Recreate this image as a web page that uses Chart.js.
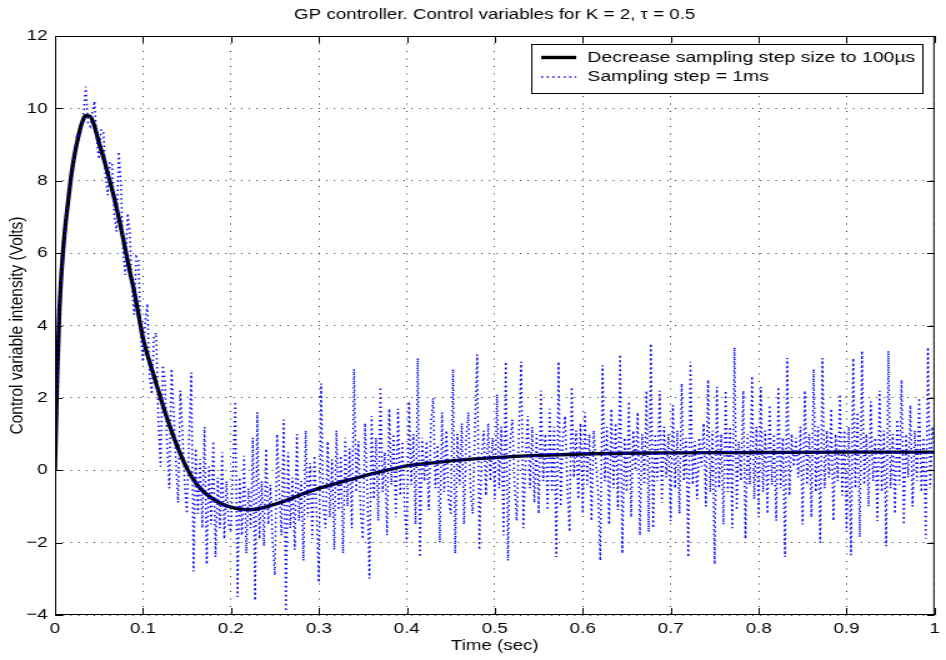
<!DOCTYPE html>
<html>
<head>
<meta charset="utf-8">
<title>GP controller - control variables</title>
<script src="https://cdn.jsdelivr.net/npm/chart.js@4/dist/chart.umd.min.js"></script>
<style>
    html, body { margin: 0; padding: 0; background: #fff; }
</style>
</head>
<body>
<!-- the reference figure is stretched horizontally, so the canvas is too -->
<canvas id="chart" width="757" height="660" style="display:block;width:946px;height:660px"></canvas>
<script>
"use strict";

var TITLE = 'GP controller. Control variables for K = 2, \u03c4 = 0.5';
var X_LABEL = 'Time (sec)';
var Y_LABEL = 'Control variable intensity (Volts)';

var X_TICKS = [0, 0.1, 0.2, 0.3, 0.4, 0.5, 0.6, 0.7, 0.8, 0.9, 1];
var Y_TICKS = [-4, -2, 0, 2, 4, 6, 8, 10, 12];

// 100us run (smooth black curve)
var FINE_LABEL = 'Decrease sampling step size to 100\u00b5s';
var FINE_TIME = [
    0, 0.0025, 0.005, 0.0075, 0.01,
    0.015, 0.02, 0.025, 0.03, 0.035, 0.04, 0.045, 0.05, 0.055, 0.06,
    0.065, 0.07, 0.075, 0.08, 0.085, 0.09, 0.095, 0.1,
    0.11, 0.12, 0.13, 0.14, 0.15, 0.16, 0.17, 0.18, 0.19, 0.2,
    0.21, 0.22, 0.23, 0.24, 0.25, 0.26, 0.27, 0.28, 0.29, 0.3,
    0.32, 0.34, 0.36, 0.38, 0.4, 0.42,
    0.45, 0.5, 0.55, 0.6, 0.65, 0.7, 0.8, 0.9, 1.0
];
var FINE_VALUES = [
    0, 2.6, 4.4, 5.5, 6.3,
    7.45, 8.4, 9.05, 9.55, 9.8, 9.78, 9.5, 9.05, 8.65, 8.2,
    7.75, 7.25, 6.7, 6.1, 5.5, 4.95, 4.3, 3.65,
    2.8, 2.0, 1.25, 0.6, 0.05, -0.35, -0.62, -0.8, -0.93, -1.02,
    -1.07, -1.09, -1.07, -1.01, -0.94, -0.86, -0.77, -0.67, -0.58, -0.5,
    -0.36, -0.23, -0.1, 0.02, 0.12, 0.18,
    0.26, 0.35, 0.41, 0.45, 0.47, 0.48, 0.49, 0.5, 0.5
];

// 1ms run (blue dotted), every 2.5ms
var COARSE_LABEL = 'Sampling step = 1ms';
var COARSE_STEP = 0.0025;
var COARSE_VALUES = [
    0, 2.4, 4.6, 5.3, 6.0, 7.0, 7.7, 7.9, 8.2, 8.8, 9.3, 9.2, 9.4, 9.9, 10.6, 9.6, 9.5, 9.9, 10.2, 9.1,
    8.6, 9.4, 9.4, 8.1, 7.6, 8.5, 8.5, 7.0, 6.6, 8.8, 7.9, 6.0, 5.4, 7.1, 6.6, 5.0, 4.3, 5.9, 5.8, 3.7,
    3.0, 4.1, 4.6, 2.6, 2.1, 3.7, 3.8, 1.4, 0.1, 2.9, 2.5, 0.6, -0.5, 2.8, 1.6, 0.2, -0.9, 2.2, 1.0, -0.4,
    -1.2, 0.9, 2.7, -2.8, 0.6, -1.2, 0.3, -1.6, 1.2, -2.6, 0.1, -1.5, 0.8, -2.4, -0.2, -1.6, 0.5, -1.9, -0.3, -1.5,
    -1.7, 0.2, 1.9, -3.5, -0.2, -1.8, 0.4, -2.3, -0.5, -1.6, 0.9, -3.6, 1.6, -1.9, -0.3, -2.1, 0.6, -1.5, -0.4, -2.0,
    -2.9, 1.0, -0.6, -1.8, 1.4, -3.9, 0.5, -1.6, -0.2, -2.2, 1.0, -1.4, -0.3, -2.5, 1.1, -1.3, 0.2, -1.9, 0.4, -1.2,
    -3.1, 2.4, -1.0, -1.6, 0.8, -1.3, 0.3, -2.2, 1.1, -1.1, 0.4, -2.3, 0.9, -1.0, 0.6, -1.6, 2.8, -0.6, 0.8, -1.2,
    -1.9, 1.3, -0.5, -3.0, 1.5, -0.8, 0.9, -1.4, 2.3, -0.6, 0.5, -1.8, 1.7, -0.4, 1.0, -1.3, 1.7, -0.7, 0.8, -1.1,
    -2.0, 1.9, -0.4, 1.0, -1.5, 3.1, -2.4, 0.9, -0.3, 0.8, -1.1, 1.3, 2.0, -0.5, 0.7, -2.0, 1.6, -0.6, 1.1, -0.8,
    -1.2, 2.8, -2.3, 1.0, -0.4, 1.3, -1.5, 0.9, 1.6, -0.6, -1.2, 1.2, 3.2, -2.2, 0.4, 1.1, -0.7, 1.3, -0.3, 0.9,
    -0.8, 2.1, -0.5, 1.2, -1.8, 3.0, -2.5, 0.8, 1.4, -0.4, -1.4, 1.1, 3.0, -1.6, 0.3, 1.5, -0.5, 1.2, -0.9, 1.0,
    -1.2, 2.2, -0.3, 1.0, -1.1, 1.7, -0.6, 1.2, -2.4, 3.0, -1.0, 0.9, 1.5, -0.5, -1.7, 2.3, -0.2, 1.1, -0.8, 1.3,
    -1.2, 1.6, -0.4, 1.0, -1.4, 1.1, 0.2, -0.6, -2.5, 2.9, -0.3, 1.2, -1.5, 1.7, -0.5, 1.3, -1.1, 3.2, -2.3, 0.9,
    -0.6, 1.9, -1.3, 1.1, 0.0, 1.6, -1.8, 1.0, -0.4, 2.2, -1.7, 3.5, -1.6, 1.0, -0.3, 2.2, -0.9, 1.2, -0.2, 1.0,
    -1.4, 1.8, -0.5, 1.1, -1.2, 2.4, -0.3, 0.9, -2.4, 3.0, -0.4, 0.8, -0.8, 0.9, 0.1, 1.3, -1.0, 2.5, -0.6, 1.1,
    -2.6, 2.3, -0.5, 1.0, -1.5, 2.2, -0.6, 1.2, -1.6, 3.4, -1.1, 0.8, -0.3, 2.2, -1.9, 1.0, -0.4, 2.6, -0.8, 1.2,
    -1.3, 2.3, -0.6, 1.1, -1.2, 1.8, -0.4, 1.0, -1.4, 2.3, -0.5, 0.9, -2.4, 3.1, -0.7, 1.0, 0.1, 0.9, -0.2, 1.2,
    -1.5, 2.2, -0.4, 1.0, -1.3, 2.8, -0.6, 1.2, -2.0, 3.1, -0.5, 1.1, -0.2, 1.7, -1.4, 1.0, -0.3, 2.1, -0.7, 1.1,
    -1.7, 1.2, -2.35, 3.1, -0.5, 1.6, -1.85, 3.3, -0.4, 1.0, -1.0, 1.9, -0.3, 0.9, -1.4, 2.2, -0.6, 1.1, -2.1, 3.3,
    -0.5, 1.0, -1.2, 1.4, -0.4, 2.5, -1.5, 1.0, -0.2, 1.8, -1.0, 1.1, -0.3, 2.0, -0.6, 0.9, -1.9, 3.4, -0.5, 1.2,
    0.6
];

var FONT = '"Liberation Sans", Arial, Helvetica, sans-serif';

function fmtTick(v) {
    return String(v).replace('-', '\u2212');
}

function ticksFrom(list) {
    return function (scale) {
        scale.ticks = list.map(function (v) { return {value: v}; });
    };
}

var fineData = FINE_TIME.map(function (t, i) {
    return {x: t, y: FINE_VALUES[i]};
});
var coarseData = COARSE_VALUES.map(function (v, i) {
    return {x: Math.round(i * COARSE_STEP * 10000) / 10000, y: v};
});

// Box, inward ticks, title and legend drawn MATLAB style
var matlabAxes = {
    id: 'matlabAxes',
    afterDraw: function (chart) {
        var ctx = chart.ctx;
        var a = chart.chartArea;
        var xs = chart.scales.x;
        var ys = chart.scales.y;

        ctx.save();
        ctx.strokeStyle = '#000';
        ctx.lineWidth = 1;
        ctx.strokeRect(a.left + 0.5, a.top + 0.5, a.right - a.left - 1, a.bottom - a.top - 1);

        ctx.beginPath();
        xs.ticks.forEach(function (t) {
            var px = Math.round(xs.getPixelForValue(t.value)) + 0.5;
            ctx.moveTo(px, a.bottom);
            ctx.lineTo(px, a.bottom - 7);
            ctx.moveTo(px, a.top);
            ctx.lineTo(px, a.top + 7);
        });
        ys.ticks.forEach(function (t) {
            var py = Math.round(ys.getPixelForValue(t.value)) + 0.5;
            ctx.moveTo(a.left, py);
            ctx.lineTo(a.left + 6, py);
            ctx.moveTo(a.right, py);
            ctx.lineTo(a.right - 6, py);
        });
        ctx.stroke();

        // title
        ctx.fillStyle = '#000';
        ctx.font = '15px ' + FONT;
        ctx.textAlign = 'center';
        ctx.textBaseline = 'middle';
        ctx.fillText(TITLE, (a.left + a.right) / 2, 15);

        // legend
        var items = chart.data.datasets;
        ctx.font = '15.5px ' + FONT;
        var textW = 0;
        items.forEach(function (ds) {
            textW = Math.max(textW, ctx.measureText(ds.label).width);
        });
        var boxW = 8 + 28 + 9 + textW + 6;
        var boxR = a.right - 9.5;
        var boxL = boxR - boxW;
        var boxT = a.top + 8;
        var rowH = 19.5;
        var boxH = 10 + rowH * items.length;

        ctx.fillStyle = '#fff';
        ctx.fillRect(boxL, boxT, boxW, boxH);
        ctx.strokeStyle = '#000';
        ctx.lineWidth = 1;
        ctx.strokeRect(Math.round(boxL) + 0.5, Math.round(boxT) + 0.5, Math.round(boxW), Math.round(boxH));

        items.forEach(function (ds, i) {
            var cy = boxT + 13.5 + i * rowH;
            ctx.save();
            ctx.strokeStyle = ds.borderColor;
            ctx.lineWidth = ds.borderWidth;
            ctx.setLineDash(ds.borderDash || []);
            ctx.beginPath();
            ctx.moveTo(boxL + 8, cy);
            ctx.lineTo(boxL + 36, cy);
            ctx.stroke();
            ctx.restore();

            ctx.fillStyle = '#000';
            ctx.textAlign = 'left';
            ctx.textBaseline = 'middle';
            ctx.fillText(ds.label, boxL + 45, cy);
        });
        ctx.restore();
    }
};

var ctx = document.getElementById('chart').getContext('2d');

new Chart(ctx, {
    type: 'line',
    data: {
        datasets: [{
            label: FINE_LABEL,
            data: fineData,
            borderColor: '#000000',
            borderWidth: 3.4,
            pointRadius: 0,
            fill: false,
            cubicInterpolationMode: 'monotone',
            order: 1
        }, {
            label: COARSE_LABEL,
            data: coarseData,
            borderColor: '#0000ff',
            borderWidth: 1.5,
            borderDash: [1.5, 3],
            pointRadius: 0,
            fill: false,
            tension: 0,
            order: 0
        }]
    },
    options: {
        responsive: false,
        animation: false,
        devicePixelRatio: 1,
        layout: {
            padding: {top: 36, right: 2.6, bottom: 0, left: 0}
        },
        plugins: {
            legend: {display: false},
            title: {display: false},
            tooltip: {enabled: false}
        },
        scales: {
            x: {
                type: 'linear',
                min: 0,
                max: 1,
                afterBuildTicks: ticksFrom(X_TICKS),
                afterFit: function (scale) { scale.height = 45; },
                border: {display: false, dash: [1, 6.5]},
                grid: {color: 'rgba(0,0,0,0.8)', lineWidth: 1, drawTicks: false},
                ticks: {
                    color: '#000',
                    font: {family: FONT, size: 15},
                    padding: 5,
                    maxRotation: 0,
                    autoSkip: false,
                    callback: fmtTick
                },
                title: {
                    display: true,
                    text: X_LABEL,
                    color: '#000',
                    font: {family: FONT, size: 15},
                    padding: {top: 0, bottom: 5}
                }
            },
            y: {
                type: 'linear',
                min: -4,
                max: 12,
                afterBuildTicks: ticksFrom(Y_TICKS),
                afterFit: function (scale) { scale.width = 44; },
                border: {display: false, dash: [1, 5.2]},
                grid: {color: 'rgba(0,0,0,0.8)', lineWidth: 1, drawTicks: false},
                ticks: {
                    color: '#000',
                    font: {family: FONT, size: 15},
                    padding: 6,
                    autoSkip: false,
                    callback: fmtTick
                },
                title: {
                    display: true,
                    text: Y_LABEL,
                    color: '#000',
                    font: {family: FONT, size: 15.5},
                    padding: {top: 4.5, bottom: 0}
                }
            }
        }
    },
    plugins: [matlabAxes]
});
</script>
</body>
</html>
